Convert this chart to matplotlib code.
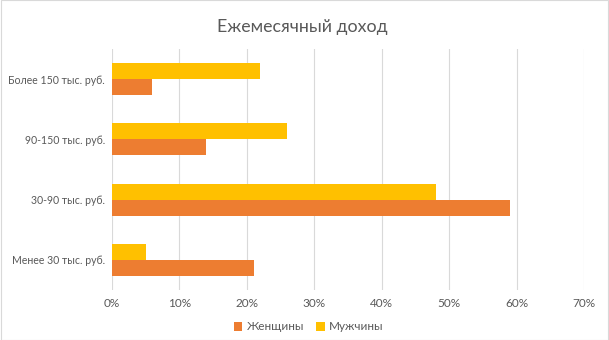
import matplotlib
matplotlib.use("Agg")
import matplotlib.pyplot as plt
import numpy as np
from matplotlib.patches import Rectangle

categories = ["Менее 30 тыс. руб.", "30-90 тыс. руб.", "90-150 тыс. руб.", "Более 150 тыс. руб."]
women = [21, 59, 14, 6]
men = [5, 48, 26, 22]
xticks = [0, 10, 20, 30, 40, 50, 60, 70]

plt.rcParams['font.family'] = ['Lato', 'DejaVu Sans']
txt = '#595959'

fig = plt.figure(figsize=(6.09, 3.4), dpi=100)
ax = fig.add_axes([112/609, 1-290/340, (584-112)/609, (290-49)/340])

y = np.arange(len(categories))
h = 0.265
ax.barh(y - h/2, women, height=h, color='#ED7D31', label='Женщины', zorder=3)
ax.barh(y + h/2, men, height=h, color='#FFC000', label='Мужчины', zorder=3)

ax.set_xlim(0, 70)
ax.set_ylim(-0.5, 3.5)
ax.set_xticks(xticks)
ax.set_xticklabels([f"{v}%" for v in xticks])
ax.set_yticks(y)
ax.set_yticklabels(categories)
ax.tick_params(axis='both', length=0, colors=txt)
ax.tick_params(axis='x', pad=6, labelsize=8.5)
ax.tick_params(axis='y', pad=5, labelsize=7.6)
ax.grid(axis='x', color='#D9D9D9', linewidth=0.8, zorder=0)
for s in ax.spines.values():
    s.set_visible(False)

fig.suptitle("Ежемесячный доход", x=302/609, y=1-27/340, va='center', fontsize=12.8, color=txt)

leg = fig.legend(loc='center', bbox_to_anchor=(309/609, 1-327/340), ncol=2, frameon=False,
                 fontsize=8.5, handlelength=0.7, handleheight=0.7, handletextpad=0.4, columnspacing=1.0)
for t in leg.get_texts():
    t.set_color(txt)

fig.patches.append(Rectangle((0.001, 0.001), 0.998, 0.998, transform=fig.transFigure,
                             fill=False, edgecolor='#D9D9D9', linewidth=0.8))

fig.savefig("out.png", dpi=100)
